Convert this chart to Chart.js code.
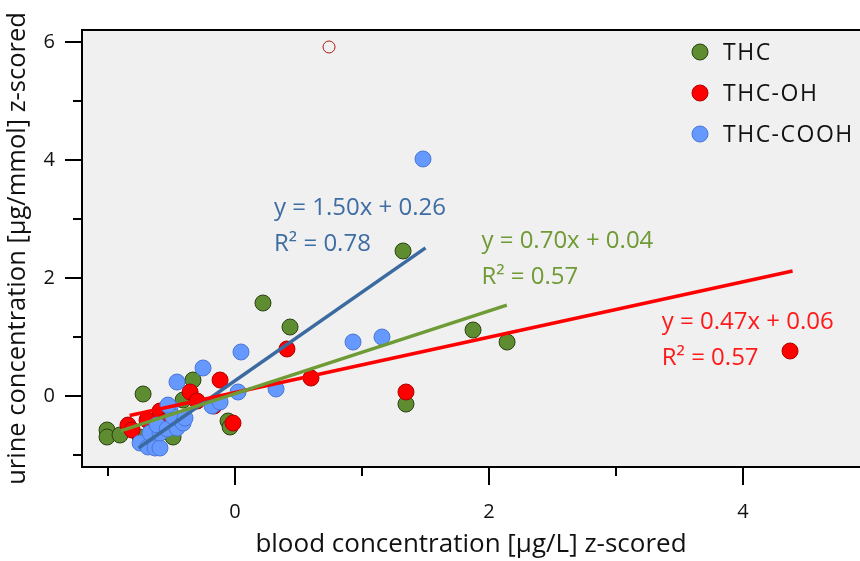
<!DOCTYPE html>
<html><head><meta charset="utf-8">
<script src="https://cdn.jsdelivr.net/npm/chart.js@4/dist/chart.umd.min.js"></script>
<style>html,body{margin:0;padding:0;background:#fff;overflow:hidden;}#wrap{width:860px;height:561px;}</style>
</head><body><div id="wrap"><canvas id="c" width="860" height="561"></canvas></div>
<script>
// ---- data ----
const thcX = [-1.008,-1.008,-0.906,-0.748,-0.724,-0.488,-0.409,-0.331,-0.055,-0.039,0.220,0.433,1.323,1.346,1.874,2.142];
const thcY = [-0.576,-0.695,-0.661,-0.695,0.034,-0.695,-0.068,0.271,-0.424,-0.525,1.576,1.169,2.458,-0.136,1.119,0.915];

const ohX = [-0.843,-0.811,-0.693,-0.591,-0.551,-0.488,-0.354,-0.299,-0.165,-0.118,-0.016,0.409,0.598,1.346,4.370];
const ohY = [-0.492,-0.576,-0.407,-0.254,-0.424,-0.356,0.068,-0.085,-0.169,0.271,-0.458,0.797,0.305,0.068,0.763];

const coohX = [-0.748,-0.685,-0.630,-0.591,-0.669,-0.591,-0.614,-0.535,-0.457,-0.512,-0.488,-0.409,-0.394,-0.528,-0.457,-0.252,-0.181,-0.118,0.024,0.047,0.323,0.929,1.157,1.480];
const coohY = [-0.797,-0.864,-0.881,-0.881,-0.627,-0.627,-0.492,-0.559,-0.542,-0.186,-0.356,-0.458,-0.373,-0.153,0.237,0.475,-0.169,-0.102,0.068,0.746,0.119,0.915,1.000,4.017];

const outlierX = [0.74];
const outlierY = [5.915];

// fitted line end points
const thcFitX = [-0.90, 2.14];
const thcFitY = [-0.59, 1.54];
const ohFitX = [-0.83, 4.39];
const ohFitY = [-0.33, 2.12];
const coohFitX = [-0.76, 1.50];
const coohFitY = [-0.88, 2.51];

const seriesNames = ['THC', 'THC-OH', 'THC-COOH'];
const equations = ['y = 0.70x + 0.04', 'y = 0.47x + 0.06', 'y = 1.50x + 0.26'];
const r2Labels = ['R² = 0.57', 'R² = 0.57', 'R² = 0.78'];
// anchor of each equation label (data coords)
const labelX = [1.94, 3.36, 0.307];
const labelY = [2.63, 1.26, 3.19];

const xTicks = [-1, 0, 1, 2, 3, 4];
const yTicks = [-1, 0, 1, 2, 3, 4, 5, 6];
const xTitle = 'blood concentration [µg/L] z-scored';
const yTitle = 'urine concentration [µg/mmol] z-scored';

const FONT = "'Open Sans', sans-serif";
const pts = (xs, ys) => xs.map((x, i) => ({x, y: ys[i]}));

const colors = {
  thc: {fill: '#5e8c31', border: '#2c4212', line: '#6e9b35', text: '#6f9a34'},
  oh: {fill: '#ff0000', border: '#b00000', line: '#ff0000', text: '#ff1a1a'},
  cooh: {fill: '#6699ff', border: '#4a78d6', line: '#3a6aa0', text: '#3e6da3'}
};

const bgPlugin = {
  id: 'bg',
  beforeDraw(chart) {
    const {ctx, chartArea: a} = chart;
    ctx.save();
    ctx.fillStyle = '#f0f0f0';
    ctx.fillRect(a.left, a.top, chart.width - a.left, a.bottom - a.top);
    ctx.restore();
  }
};

const frame = {
  id: 'frame',
  afterDraw(chart) {
    const {ctx, chartArea: a, scales} = chart;
    ctx.save();
    ctx.strokeStyle = '#000';
    ctx.lineWidth = 2;
    ctx.strokeRect(a.left, a.top, chart.width - a.left + 4, a.bottom - a.top);
    // tick marks
    ctx.beginPath();
    xTicks.forEach(v => {
      const px = Math.round(scales.x.getPixelForValue(v));
      const len = v % 2 === 0 ? 18 : 9;
      ctx.moveTo(px, a.bottom); ctx.lineTo(px, a.bottom + len);
    });
    yTicks.forEach(v => {
      const py = Math.round(scales.y.getPixelForValue(v));
      const len = v % 2 === 0 ? 17 : 9;
      ctx.moveTo(a.left, py); ctx.lineTo(a.left - len, py);
    });
    ctx.stroke();

    // x axis title, centred under the whole visible plot box
    ctx.font = '26px ' + FONT;
    ctx.fillStyle = '#111';
    ctx.textAlign = 'center';
    ctx.textBaseline = 'middle';
    ctx.fillText(xTitle, (a.left + chart.width) / 2, 545);

    // equation labels
    ctx.font = '24px ' + FONT;
    ctx.textAlign = 'left';
    ctx.textBaseline = 'middle';
    const tc = [colors.thc.text, colors.oh.text, colors.cooh.text];
    equations.forEach((eq, i) => {
      const px = scales.x.getPixelForValue(labelX[i]);
      const py = scales.y.getPixelForValue(labelY[i]);
      ctx.fillStyle = tc[i];
      ctx.fillText(eq, px, py);
      ctx.fillText(r2Labels[i], px, py + 36);
    });

    // legend
    const lc = [colors.thc, colors.oh, colors.cooh];
    ctx.font = '23px ' + FONT;
    if ('letterSpacing' in ctx) ctx.letterSpacing = '1.5px';
    seriesNames.forEach((n, i) => {
      const y = a.top + 22 + i * 41;
      ctx.beginPath();
      ctx.arc(700, y, 8, 0, Math.PI * 2);
      ctx.fillStyle = lc[i].fill; ctx.fill();
      ctx.lineWidth = 1; ctx.strokeStyle = lc[i].border; ctx.stroke();
      ctx.fillStyle = '#111';
      ctx.fillText(n, 723, y + 1);
    });
    ctx.restore();
  }
};

const scatterDs = (label, xs, ys, c, order) => ({
  type: 'scatter', label, data: pts(xs, ys), order,
  backgroundColor: c.fill, borderColor: c.border, borderWidth: 1,
  pointRadius: 8, pointHoverRadius: 8
});
const lineDs = (label, xs, ys, c) => ({
  type: 'line', label, data: pts(xs, ys), order: 0,
  borderColor: c.line, borderWidth: 3.5, pointRadius: 0, fill: false, tension: 0
});

new Chart(document.getElementById('c'), {
  data: {
    datasets: [
      lineDs('THC fit', thcFitX, thcFitY, colors.thc),
      lineDs('THC-OH fit', ohFitX, ohFitY, colors.oh),
      lineDs('THC-COOH fit', coohFitX, coohFitY, colors.cooh),
      scatterDs(seriesNames[0], thcX, thcY, colors.thc, 3),
      scatterDs(seriesNames[1], ohX, ohY, colors.oh, 2),
      scatterDs(seriesNames[2], coohX, coohY, colors.cooh, 1),
      {type: 'scatter', label: 'outlier', data: pts(outlierX, outlierY), order: 1,
       backgroundColor: 'rgba(0,0,0,0)', borderColor: '#b01818', borderWidth: 1, pointRadius: 6}
    ]
  },
  options: {
    responsive: false, animation: false, devicePixelRatio: 1,
    layout: {padding: {top: 30, right: 0, left: 0, bottom: 0}},
    plugins: {legend: {display: false}, tooltip: {enabled: false}},
    scales: {
      x: {
        type: 'linear', min: -1.205, max: 4.85,
        afterFit: s => { s.height = 94; s.paddingLeft = 0; s.paddingRight = 0; },
        grid: {drawOnChartArea: false, drawTicks: false},
        border: {display: false},
        ticks: {stepSize: 1, includeBounds: false, autoSkip: false, maxRotation: 0,
          padding: 33, color: '#111', font: {family: FONT, size: 20},
          callback: v => (Number.isInteger(v) && v % 2 === 0) ? String(v) : ''},
        title: {display: false}
      },
      y: {
        type: 'linear', min: -1.203, max: 6.203,
        afterFit: s => { s.width = 82; s.paddingTop = 0; s.paddingBottom = 0; },
        grid: {drawOnChartArea: false, drawTicks: false},
        border: {display: false},
        ticks: {stepSize: 1, includeBounds: false, autoSkip: false,
          padding: 27, color: '#111', font: {family: FONT, size: 20},
          callback: v => (Number.isInteger(v) && v % 2 === 0) ? String(v) : ''},
        title: {display: true, text: yTitle, color: '#111',
          font: {family: FONT, size: 25.5}, padding: {top: 2, bottom: 0}}
      }
    }
  },
  plugins: [bgPlugin, frame]
});
</script></body></html>
